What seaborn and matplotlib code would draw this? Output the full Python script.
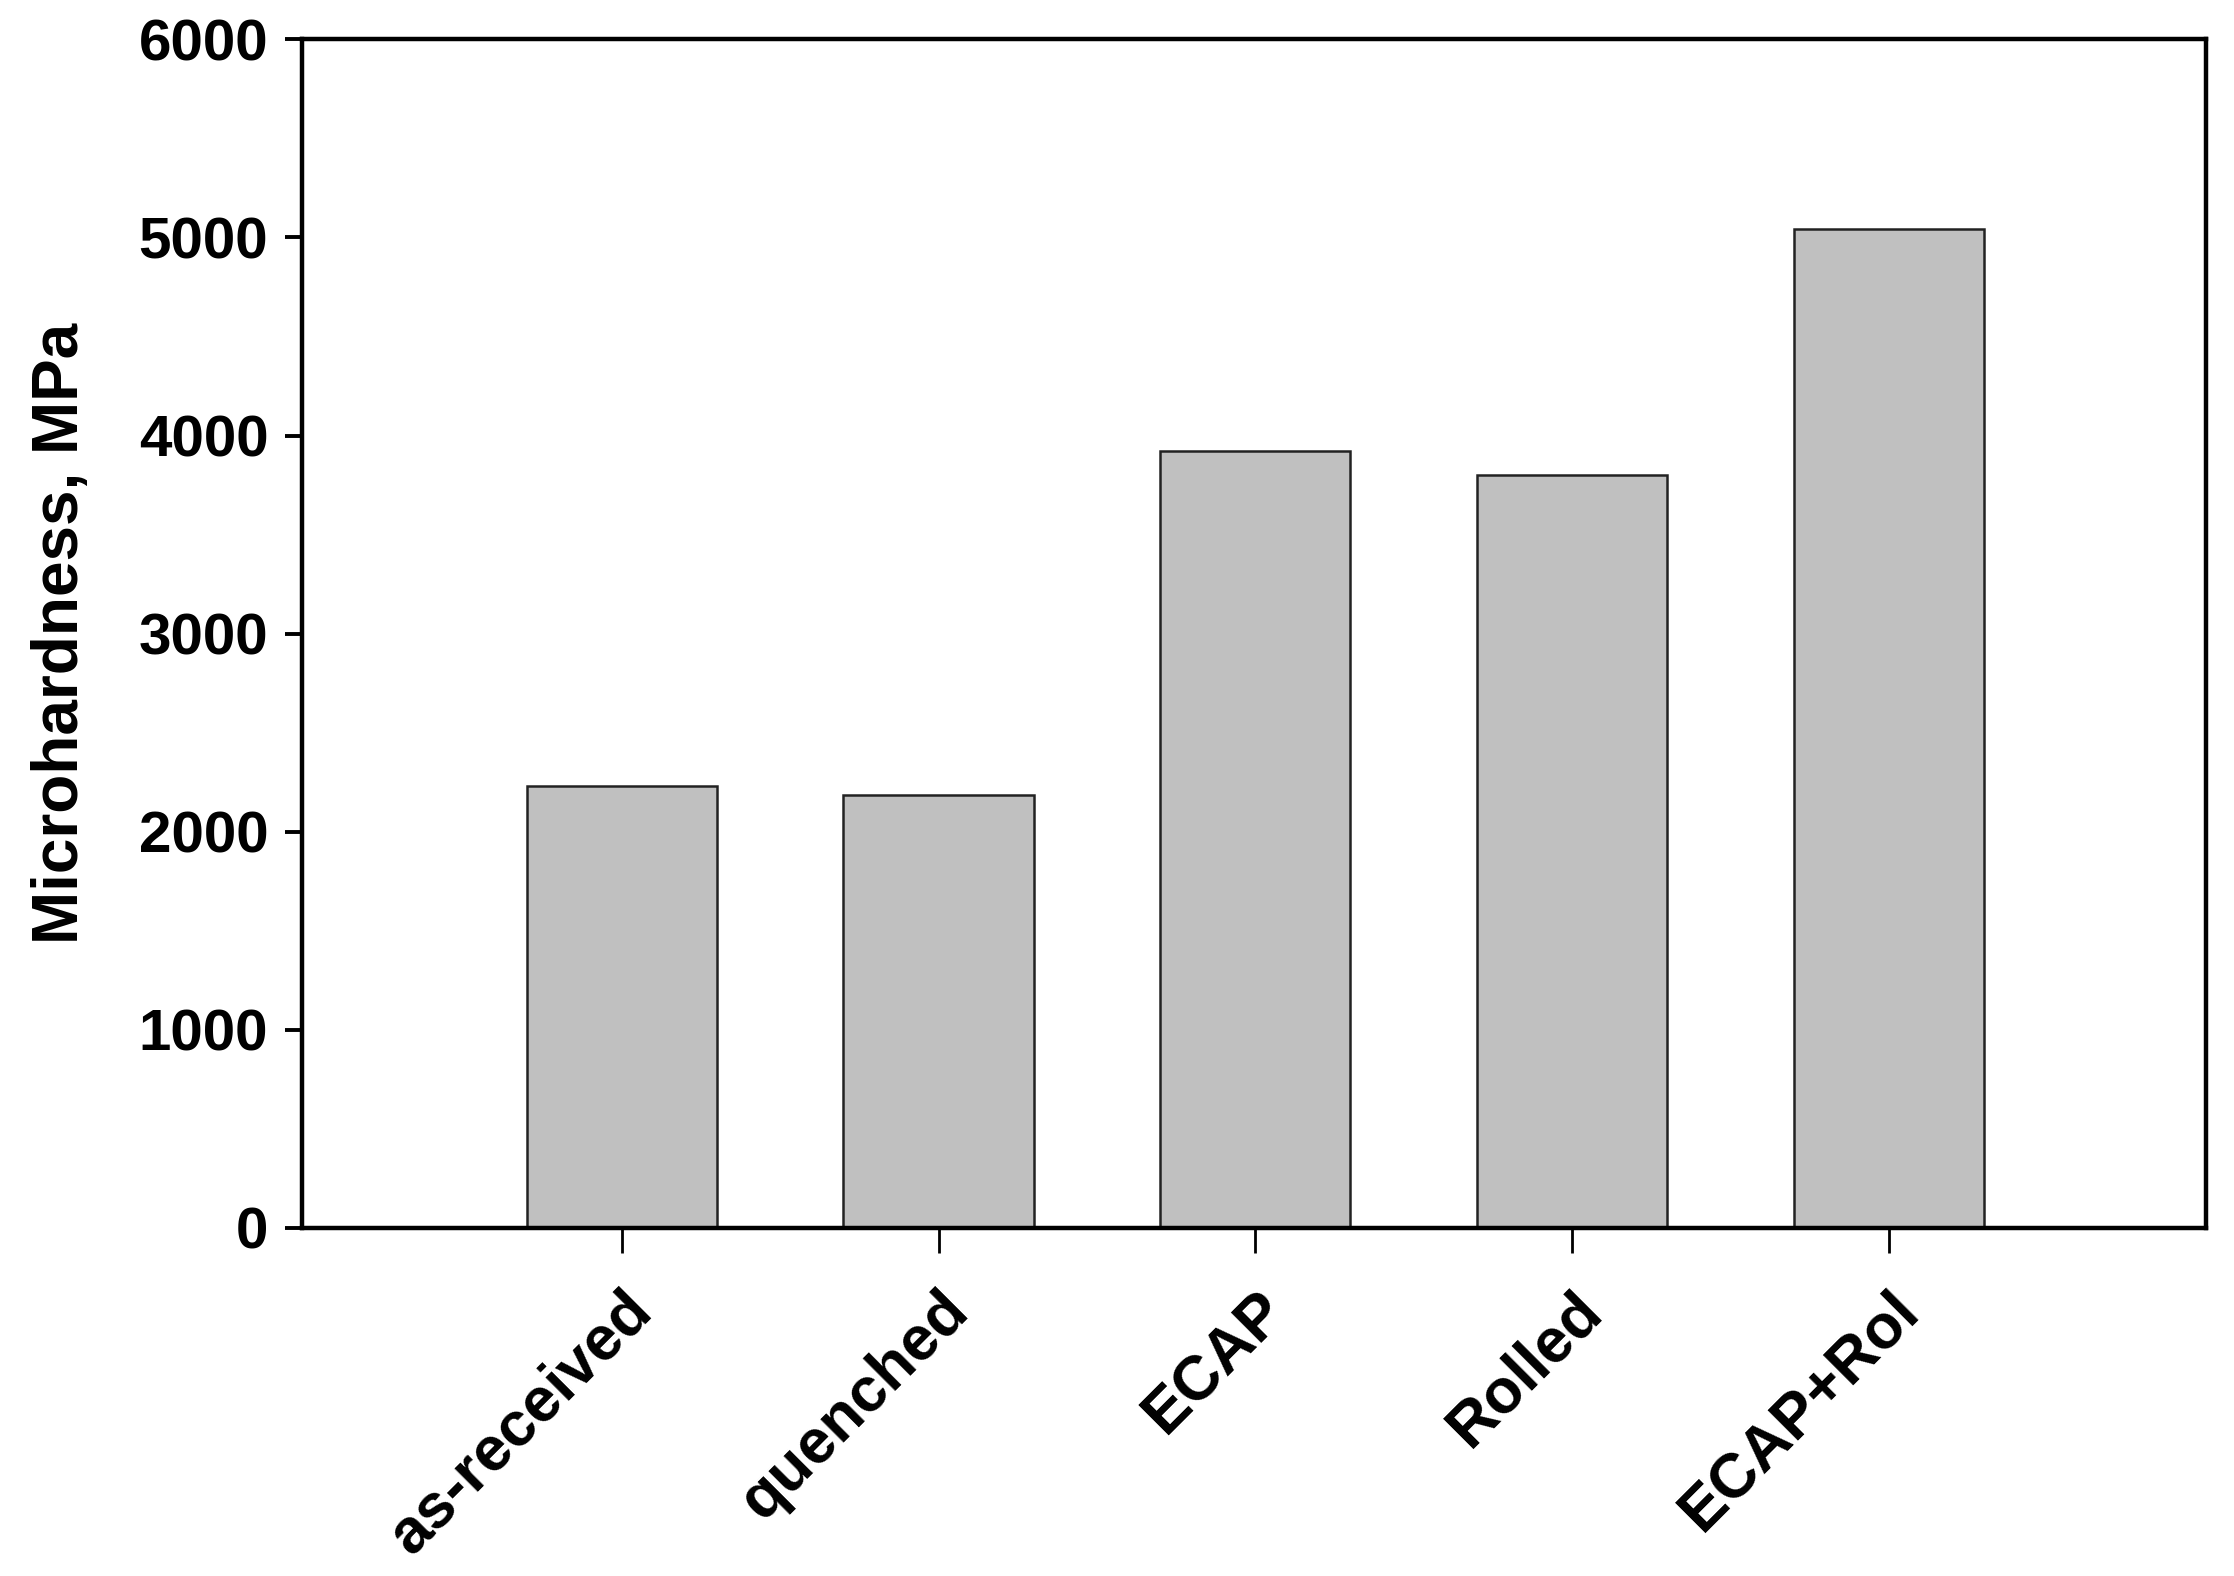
import matplotlib
matplotlib.use("Agg")
import matplotlib.pyplot as plt
import seaborn as sns
import pandas as pd

# values
treatments = ["as-received", "quenched", "ECAP", "Rolled", "ECAP+Rol"]
hardness = [2230, 2187, 3920, 3800, 5045]
y_ticks = [0, 1000, 2000, 3000, 4000, 5000, 6000]

df = pd.DataFrame({"treatment": treatments, "hardness": hardness})

sns.set_theme(style="white")
plt.rcParams["font.family"] = ["Liberation Sans", "DejaVu Sans"]
plt.rcParams["font.weight"] = "bold"
plt.rcParams["text.color"] = "black"
plt.rcParams["axes.labelcolor"] = "black"
plt.rcParams["xtick.color"] = "black"
plt.rcParams["ytick.color"] = "black"

fig = plt.figure(figsize=(11.17, 7.88), dpi=200)
ax = fig.add_axes([0.135, 0.221, 0.8525, 0.754])

sns.barplot(data=df, x="treatment", y="hardness", color="#c0c0c0",
            saturation=1, width=0.6, edgecolor="#222222", linewidth=0.9, ax=ax)

ax.set_xlim(-1.01, 5.0)
ax.set_ylim(0, 6000)
ax.set_yticks(y_ticks)
ax.set_yticklabels([str(t) for t in y_ticks], fontsize=21, fontweight="bold")
ax.set_xticks(range(len(treatments)))
ax.set_xticklabels(treatments, rotation=45, ha="right", va="top",
                   rotation_mode="anchor", fontsize=22.5, fontweight="bold")

ax.set_xlabel("")
ax.set_ylabel("Microhardness, MPa", fontsize=23, fontweight="bold", labelpad=17)

for side in ["left", "right", "top", "bottom"]:
    ax.spines[side].set_visible(True)
    ax.spines[side].set_color("black")
    ax.spines[side].set_linewidth(1.6)

ax.tick_params(axis="y", direction="out", length=6, width=1.4, pad=6, left=True)
ax.tick_params(axis="x", direction="out", length=9, width=1.0, pad=10, bottom=True)

fig.savefig("out.png", dpi=200, facecolor="white")
